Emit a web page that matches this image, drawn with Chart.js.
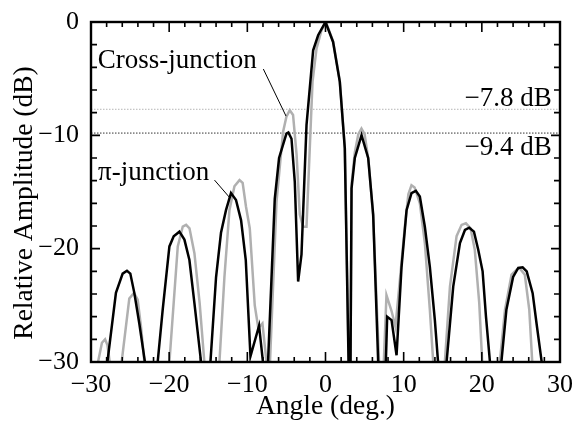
<!DOCTYPE html>
<html>
<head>
<meta charset="utf-8">
<script src="https://cdn.jsdelivr.net/npm/chart.js@4.4.1/dist/chart.umd.min.js"></script>
<style>
  html, body { margin: 0; padding: 0; background: #fff; }
  #wrap { width: 577px; height: 424px; }
</style>
</head>
<body>
<div id="wrap"><canvas id="beamChart"></canvas></div>
<script>
// Tick labels
const angleTicks = [-30, -20, -10, 0, 10, 20, 30];
const ampTicks = [-30, -20, -10, 0];

// Pi-junction pattern (black). Values below -30 dB are nulls, clipped by the axis.
const piAngles = [
    -30, -27.9, -26.81, -25.95, -25.4, -24.97, -24.46, -23.82, -23.1, -22.3,
    -21.47, -20.83, -19.97, -19.42, -18.69, -18.05, -17.41, -16.77, -15.92, -15.3,
    -14.72, -14.0, -13.37, -12.73, -12.09, -11.45, -10.8, -10.2, -9.6, -8.5,
    -8.0, -7.7, -7.35, -6.49, -5.94, -5.0, -4.75, -4.35, -3.93, -3.5,
    -3.07, -2.43, -1.58, -0.94, 0, 0.97, 1.83, 2.47, 2.95, 3.08,
    3.2, 3.33, 3.75, 4.61, 5.46, 6.1, 6.74, 7.2, 7.72, 7.89,
    8.45, 9.09, 9.73, 10.37, 11.0, 11.56, 12.07, 12.71, 13.35, 13.99,
    14.4, 14.95, 15.49, 16.34, 17.2, 17.84, 18.39, 18.99, 19.54, 20.1,
    20.53, 21.04, 21.8, 22.5, 23.14, 24.0, 24.66, 25.22, 25.74, 26.5,
    27.0, 27.66, 28.5, 30
];
const piAmps = [
    -40, -30, -23.9, -22.2, -21.95, -22.2, -23.9, -26.6, -30, -40,
    -30, -25.4, -19.8, -18.9, -18.5, -19.2, -21.0, -24.8, -30, -40,
    -30, -22.5, -18.6, -16.6, -15.1, -15.7, -17.5, -21.0, -29.5, -26.8,
    -30, -40, -30, -15.6, -12.0, -9.85, -9.75, -10.3, -14.1, -22.9,
    -20.5, -9.1, -2.5, -1.17, 0, -1.76, -5.28, -11.15, -30, -40,
    -30, -14.7, -12.0, -9.98, -12.0, -17.0, -30, -40, -30, -26.0,
    -26.3, -29.4, -21.6, -16.6, -15.1, -14.9, -15.4, -18.06, -21.6, -26.3,
    -30, -40, -30, -23.35, -19.5, -18.35, -18.15, -18.5, -20.1, -22.0,
    -26.0, -30, -40, -30, -25.4, -22.5, -21.7, -21.64, -22.0, -23.93,
    -26.6, -30, -40, -40
];

// Cross-junction pattern (gray)
const crossAngles = [
    -30, -29.1, -28.6, -28.2, -27.9, -27.6, -26.8, -26.08, -25.1, -24.5,
    -24.03, -23.6, -23.17, -21.5, -19.97, -18.9, -18.26, -17.83, -17.4, -16.77,
    -16.1, -15.5, -14.5, -13.57, -12.93, -12.29, -11.65, -11.0, -10.6, -10.17,
    -9.69, -9.05, -8.6, -8.07, -7.55, -7.35, -7.1, -6.27, -5.43, -5.0,
    -4.57, -4.15, -3.7, -3.29, -2.87, -2.43, -2.1, -1.66, -1.15, -0.51,
    0.05, 0.97, 1.83, 2.47, 2.97, 3.1, 3.2, 3.35, 3.75, 4.2,
    4.6, 5.0, 5.5, 6.1, 6.85, 7.15, 7.46, 7.8, 8.45, 8.95,
    9.51, 10.15, 10.6, 11.0, 11.4, 12.07, 12.71, 13.35, 13.78, 14.5,
    15.27, 15.92, 16.77, 17.41, 17.96, 18.56, 19.1, 19.67, 20.05, 21.2,
    22.3, 22.96, 23.8, 24.53, 24.85, 25.5, 26.07, 26.45, 27.5, 30
];
const crossAmps = [
    -40, -30, -28.3, -28.0, -28.5, -30, -40, -30, -24.4, -23.9,
    -24.5, -26.9, -30, -40, -30, -19.8, -18.05, -17.9, -18.2, -20.4,
    -24.8, -30, -40, -30, -22.5, -16.6, -14.5, -13.95, -14.2, -16.3,
    -18.2, -25.0, -27.0, -26.6, -30, -40, -30, -15.9, -9.7, -8.36,
    -7.78, -8.2, -11.7, -17.0, -18.06, -18.06, -12.6, -5.28, -2.35, -0.73,
    0, -1.7, -5.2, -11.1, -30, -40, -30, -14.2, -11.5, -9.9,
    -9.4, -9.9, -12.2, -17.2, -30, -40, -30, -24.1, -25.5, -26.9,
    -22.8, -18.05, -15.2, -14.4, -14.6, -16.0, -19.5, -25.4, -30, -40,
    -30, -23.35, -18.9, -17.9, -17.76, -18.2, -20.1, -24.8, -30, -40,
    -30, -25.4, -22.3, -21.8, -21.75, -22.3, -25.4, -30, -40, -40
];

// Side-lobe reference levels (dotted lines) and their labels
const refLevels = [-7.7, -9.8];
const refLabels = ['\u22127.8 dB', '\u22129.4 dB'];

const FONT = "'Liberation Serif', 'DejaVu Serif', serif";

function toPoints(xs, ys) {
    return xs.map((x, i) => ({ x: x, y: ys[i] }));
}

function minusLabel(v) {
    return v < 0 ? '\u2212' + Math.abs(v) : String(v);
}

// Inward tick marks on all four sides plus the frame
const frameTicks = {
    id: 'frameTicks',
    afterDatasetsDraw(chart) {
        const { ctx, chartArea: a, scales: { x, y } } = chart;
        ctx.save();
        ctx.strokeStyle = '#000';
        ctx.lineWidth = 1.6;
        ctx.beginPath();
        for (let v = -30; v <= 30; v += 2) {
            const px = x.getPixelForValue(v);
            const len = v % 10 === 0 ? 10 : 5;
            ctx.moveTo(px, a.bottom); ctx.lineTo(px, a.bottom - len);
            ctx.moveTo(px, a.top); ctx.lineTo(px, a.top + len);
        }
        for (let v = -30; v <= 0; v += 2) {
            const py = y.getPixelForValue(v);
            const len = v % 10 === 0 ? 9 : 6;
            ctx.moveTo(a.left, py); ctx.lineTo(a.left + len, py);
            ctx.moveTo(a.right, py); ctx.lineTo(a.right - len, py);
        }
        ctx.stroke();
        ctx.lineWidth = 2.4;
        ctx.strokeRect(a.left, a.top, a.right - a.left, a.bottom - a.top);
        ctx.restore();
    }
};

// Curve labels, leader lines, level labels and the y title
const annotations = {
    id: 'annotations',
    afterDraw(chart) {
        const { ctx, chartArea: a, scales: { x, y } } = chart;
        ctx.save();
        ctx.fillStyle = '#000';
        ctx.strokeStyle = '#000';
        ctx.font = '27px ' + FONT;
        ctx.textBaseline = 'alphabetic';

        ctx.textAlign = 'left';
        ctx.fillText('Cross-junction', x.getPixelForValue(-29.15), y.getPixelForValue(-4.1));
        ctx.fillText('\u03c0-junction', x.getPixelForValue(-29.1), y.getPixelForValue(-13.96));

        ctx.lineWidth = 1;
        ctx.beginPath();
        ctx.moveTo(x.getPixelForValue(-7.95), y.getPixelForValue(-4.15));
        ctx.lineTo(x.getPixelForValue(-5.05), y.getPixelForValue(-8.3));
        ctx.moveTo(x.getPixelForValue(-14.2), y.getPixelForValue(-13.95));
        ctx.lineTo(x.getPixelForValue(-12.25), y.getPixelForValue(-15.5));
        ctx.stroke();

        ctx.textAlign = 'right';
        ctx.fillText(refLabels[0], x.getPixelForValue(28.95), y.getPixelForValue(-7.44));
        ctx.fillText(refLabels[1], x.getPixelForValue(28.95), y.getPixelForValue(-11.74));

        // y axis title
        ctx.translate(25, (a.top + a.bottom) / 2 + 11);
        ctx.rotate(-Math.PI / 2);
        ctx.textAlign = 'center';
        ctx.textBaseline = 'middle';
        ctx.font = '27.5px ' + FONT;
        ctx.fillText('Relative Amplitude (dB)', 0, 0);
        ctx.restore();
    }
};

const refDatasets = refLevels.map((lvl, i) => ({
    data: [{ x: -30, y: lvl }, { x: 30, y: lvl }],
    borderColor: i === 0 ? '#b4b4b4' : '#333333',
    borderWidth: 1,
    borderDash: [1.5, 1.5],
    pointRadius: 0
}));

new Chart(document.getElementById('beamChart'), {
    type: 'line',
    data: {
        datasets: [
            {
                label: '\u03c0-junction',
                data: toPoints(piAngles, piAmps),
                borderColor: '#000000',
                borderWidth: 2.5,
                pointRadius: 0,
                tension: 0
            },
            {
                label: 'Cross-junction',
                data: toPoints(crossAngles, crossAmps),
                borderColor: '#b0b0b0',
                borderWidth: 2.5,
                pointRadius: 0,
                tension: 0
            },
            ...refDatasets
        ]
    },
    options: {
        responsive: true,
        maintainAspectRatio: false,
        animation: false,
        layout: { padding: { top: 22, right: 17, left: 0, bottom: 0 } },
        plugins: { legend: { display: false }, tooltip: { enabled: false } },
        scales: {
            x: {
                type: 'linear',
                min: -30,
                max: 30,
                afterBuildTicks: s => { s.ticks = angleTicks.map(v => ({ value: v })); },
                afterFit: s => { s.height = 62; },
                grid: { display: false },
                border: { display: false },
                ticks: {
                    color: '#000',
                    padding: 0,
                    maxRotation: 0,
                    font: { family: FONT, size: 26 },
                    callback: v => minusLabel(v)
                },
                title: {
                    display: true,
                    text: 'Angle (deg.)',
                    color: '#000',
                    padding: { top: 0, bottom: 1 },
                    font: { family: FONT, size: 27.5 }
                }
            },
            y: {
                min: -30,
                max: 0,
                afterBuildTicks: s => { s.ticks = ampTicks.map(v => ({ value: v })); },
                afterFit: s => { s.width = 91; },
                grid: { display: false },
                border: { display: false },
                ticks: {
                    color: '#000',
                    padding: 4,
                    font: { family: FONT, size: 26 },
                    callback: v => minusLabel(v)
                }
            }
        }
    },
    plugins: [frameTicks, annotations]
});
</script>
</body>
</html>
